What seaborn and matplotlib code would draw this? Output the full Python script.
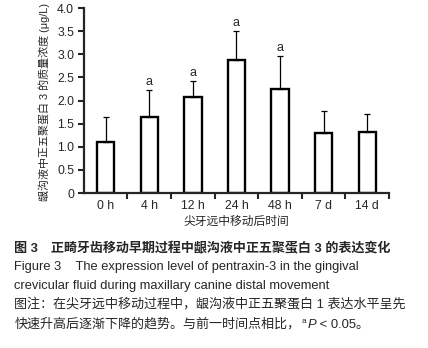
import matplotlib
matplotlib.use("Agg")
import matplotlib.pyplot as plt
import seaborn as sns
import pandas as pd

# === Data ===
times = ["0 h", "4 h", "12 h", "24 h", "48 h", "7 d", "14 d"]
means = [1.10, 1.65, 2.07, 2.88, 2.24, 1.29, 1.31]
errs = [0.55, 0.57, 0.35, 0.62, 0.72, 0.48, 0.39]
marks = ["", "a", "a", "a", "a", "", ""]

ylabel = "龈沟液中正五聚蛋白 3 的质量浓度 (μg/L)"
xlabel = "尖牙远中移动后时间"
cap_title = "图 3　正畸牙齿移动早期过程中龈沟液中正五聚蛋白 3 的表达变化"
cap_en1 = "Figure 3    The expression level of pentraxin-3 in the gingival"
cap_en2 = "crevicular fluid during maxillary canine distal movement"
cap_note1 = "图注：在尖牙远中移动过程中，龈沟液中正五聚蛋白 1 表达水平呈先"
cap_note2 = "快速升高后逐渐下降的趋势。与前一时间点相比，"

df = pd.DataFrame({"time": times, "value": means})

sns.set_style("ticks")
plt.rcParams["font.family"] = ["Liberation Sans", "Noto Sans CJK SC"]

fig = plt.figure(figsize=(4.28, 3.48), dpi=100)
ax = fig.add_axes([0.196, 0.4454, 0.713, 0.5316])

sns.barplot(data=df, x="time", y="value", width=0.4, color="white",
            edgecolor="black", linewidth=1.7, ax=ax)
ax.errorbar(range(len(times)), means, yerr=[[0] * len(errs), errs],
            fmt="none", ecolor="black", elinewidth=0.9, capsize=2, capthick=0.9)

for i, (m, e, s) in enumerate(zip(means, errs, marks)):
    if s:
        ax.annotate(s, (i, m + e), xytext=(0, 4), textcoords="offset points",
                    ha="center", va="baseline", fontsize=9)

ax.set_xlim(-0.5, 6.5)
ax.set_ylim(0, 4.0)
ax.set_yticks([0, 0.5, 1.0, 1.5, 2.0, 2.5, 3.0, 3.5, 4.0])
ax.set_yticklabels(["0" if v == 0 else f"{v:.1f}" for v in ax.get_yticks()])
ax.set_xticks(range(len(times)))
ax.set_xticklabels(times)
ax.set_xticks([i + 0.5 for i in range(len(times))], minor=True)
ax.tick_params(axis="x", which="major", length=0, pad=5, labelsize=8.8)
ax.tick_params(axis="x", which="minor", length=4, width=1.5, direction="out")
ax.tick_params(axis="y", length=4, width=1.5, labelsize=8.8, pad=3)
for side in ["top", "right"]:
    ax.spines[side].set_visible(False)
for side in ["left", "bottom"]:
    ax.spines[side].set_linewidth(1.6)

ax.set_xlabel(xlabel, fontsize=8.5, labelpad=3)
ax.set_ylabel(ylabel, fontsize=7.9, labelpad=5)
ax.yaxis.label.set_y(0.49)

# === Caption ===
fs = 9.4
fig.text(0.033, 1 - 249 / 348, cap_title, fontsize=fs, fontweight="bold", va="center")
fig.text(0.033, 1 - 267 / 348, cap_en1, fontsize=9.3, va="center")
fig.text(0.033, 1 - 286 / 348, cap_en2, fontsize=9.3, va="center")
fig.text(0.033, 1 - 305 / 348, cap_note1, fontsize=fs, va="center")

# last line built from pieces so the superscript and italic P sit on one baseline
base_y = 1 - 328 / 348
t = fig.text(0.033, base_y, cap_note2, fontsize=fs, va="baseline")
fig.canvas.draw()
renderer = fig.canvas.get_renderer()
x_end = t.get_window_extent(renderer).x1 / fig.bbox.width
t_sup = fig.text(x_end + 0.003, base_y + 0.013, "a", fontsize=6, va="baseline")
x_end = t_sup.get_window_extent(renderer).x1 / fig.bbox.width
t_p = fig.text(x_end + 0.003, base_y, "P", fontsize=fs, fontstyle="italic", va="baseline")
x_end = t_p.get_window_extent(renderer).x1 / fig.bbox.width
fig.text(x_end, base_y, " < 0.05。", fontsize=fs, va="baseline")

fig.savefig("out.png", dpi=100)
